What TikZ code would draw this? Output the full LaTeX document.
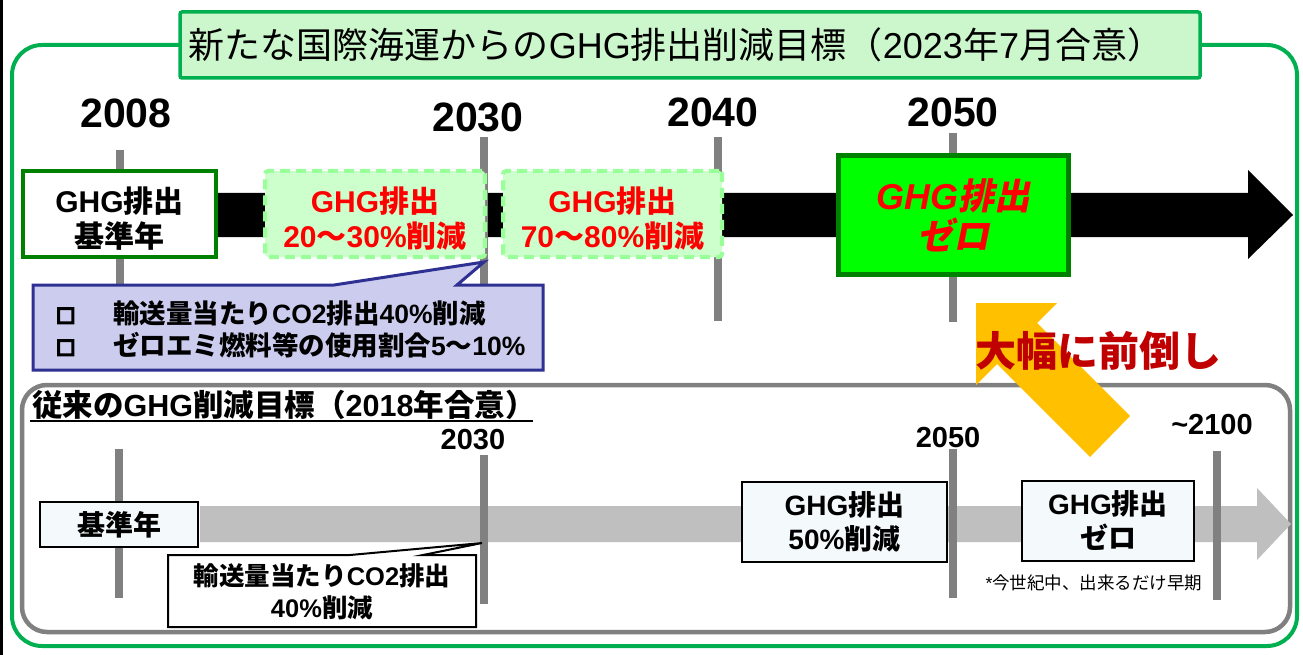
\documentclass[tikz,border=0pt]{standalone}
\usepackage{fontspec}
\setmainfont{Liberation Sans}
\newfontfamily\jp{Noto Sans CJK JP}
\newfontfamily\jpsl{Noto Sans CJK JP}[FakeSlant=0.2]
\newcommand\J[1]{{\jp #1}}
\newcommand\JS[1]{{\jpsl #1}}
\newcommand\SQ{\special{pdf:literal direct 2 Tr 2 w}{\jp\fontsize{19}{19}\selectfont □}\special{pdf:literal direct 0 Tr}}
\definecolor{frameg}{RGB}{0,176,80}
\definecolor{titlefill}{RGB}{204,247,204}
\definecolor{dkgreen}{RGB}{0,128,0}
\definecolor{ltfill}{RGB}{204,255,204}
\definecolor{dashg}{RGB}{153,255,153}
\definecolor{tickc}{RGB}{128,128,128}
\definecolor{calfill}{RGB}{204,204,238}
\definecolor{calline}{RGB}{46,49,146}
\definecolor{bigred}{RGB}{192,0,0}
\definecolor{yel}{RGB}{255,192,0}
\definecolor{barg}{RGB}{191,191,191}
\definecolor{boxfill}{RGB}{244,249,251}
\tikzset{
  frame/.style={draw=frameg, line width=4pt, rounded corners=30pt},
  lowframe/.style={draw=tickc, line width=4.5pt, rounded corners=25pt},
  titlebox/.style={draw=frameg, fill=titlefill, line width=3.5pt, rounded corners=2pt,
    minimum width=1020pt, minimum height=66pt, inner sep=0pt},
  titletext/.style={inner sep=0pt, font=\fontsize{36}{36}\selectfont},
  yearlbl/.style={font=\fontsize{41}{41}\selectfont\bfseries, inner sep=0pt},
  lyearlbl/.style={font=\fontsize{29}{29}\selectfont\bfseries, inner sep=0pt},
  tickline/.style={draw=tickc, line width=8pt},
  basebox/.style={draw=dkgreen, fill=white, line width=4pt, minimum width=193pt,
    minimum height=86pt, inner sep=0pt},
  targetbox/.style={draw=dashg, fill=ltfill, line width=4pt, dash pattern=on 10pt off 6pt,
    rounded corners=3pt, minimum height=86pt, inner sep=0pt},
  boxtext/.style={inner sep=0pt, align=center, font=\fontsize{30}{35}\selectfont\bfseries},
  zerobox/.style={draw=dkgreen, fill=green, line width=5pt, minimum width=230pt,
    minimum height=119pt, inner sep=0pt, align=center, text=red,
    font=\fontsize{36}{40}\selectfont\bfseries\itshape},
  calltext/.style={inner sep=0pt, align=left, font=\fontsize{26.5}{32}\selectfont\bfseries},
  lowbox/.style={draw=black, fill=boxfill, line width=2.5pt, inner sep=0pt, align=center,
    font=\fontsize{28}{34}\selectfont\bfseries},
}
\begin{document}
\begin{tikzpicture}[x=1pt,y=-1pt]
\useasboundingbox (0,0) rectangle (1303,655);
\fill[white] (0,0) rectangle (1303,655);
\fill[black] (0,0) rectangle (3,655);
% outer frame and title
\draw[frame] (12,45) rectangle (1297,646);
\node[titlebox] (title) at (690,45) {};
\node[titletext] (titlet) at (676,45)
  {\J{新たな国際海運からの}GHG\J{排出削減目標（}2023\J{年}7\J{月合意）}};
% year labels
\node[yearlbl] (y2008) at (126,113) {2008};
\node[yearlbl] (y2030) at (478,117) {2030};
\node[yearlbl] (y2040) at (713,112) {2040};
\node[yearlbl] (y2050) at (953,112) {2050};
% main timeline arrow
\fill[black] (215,193) -- (1248,193) -- (1248,170) -- (1293,215) -- (1248,259)
  -- (1248,237) -- (215,237) -- cycle;
% ticks
\draw[tickline] (120,150) -- (120,300);
\draw[tickline] (484,137) -- (484,300);
\draw[tickline] (718,137) -- (718,321);
\draw[tickline] (953,133) -- (953,322);
% boxes
\node[basebox] (b1) at (119.5,214) {};
\node[boxtext] (b1t) at ([yshift=-5pt]b1.center) {GHG\J{排出}\\\J{基準年}};
\node[targetbox, minimum width=220pt] (b2) at (375,214) {};
\node[boxtext, text=red] (b2t) at ([yshift=-5pt]b2.center) {GHG\J{排出}\\20\J{～}30\%\J{削減}};
\node[targetbox, minimum width=219pt] (b3) at (612.5,214) {};
\node[boxtext, text=red] (b3t) at ([yshift=-5pt]b3.center) {GHG\J{排出}\\70\J{～}80\%\J{削減}};
\node[zerobox] (b4) at (953,215) {GHG\JS{排出}\\\JS{ゼロ}};
% callout
\path[draw=calline, fill=calfill, line width=3pt] (33,285) -- (334,285) -- (484,262)
  -- (457,285) -- (543,285) -- (543,370) -- (33,370) -- cycle;
\node[calltext, anchor=west] (cal) at (56,329)
  {\SQ\hspace{38pt}\J{輸送量当たり}CO2\J{排出}40\%\J{削減}\\
   \SQ\hspace{38pt}\J{ゼロエミ燃料等の使用割合}5\J{～}10\%};
% lower frame
\draw[lowframe] (22,385) rectangle (1290,632);
\node[anchor=west, inner sep=0pt, font=\fontsize{30.5}{30.5}\selectfont\bfseries] (lt) at (32,405)
  {\J{従来の}GHG\J{削減目標（}2018\J{年合意）}};
\draw[line width=1.5pt] (30,421) -- (533,421);
% yellow arrow and label
\fill[yel] (976,303) -- (1057,303) -- (1037,323) -- (1130,416) -- (1090,457)
  -- (997,364) -- (976,385) -- cycle;
\node[inner sep=0pt, text=bigred, font=\fontsize{41}{41}\selectfont\bfseries] (big) at (1098,351)
  {\J{大幅に前倒し}};
% lower timeline
\fill[barg] (200,506) -- (1257,506) -- (1257,488) -- (1291,524) -- (1257,560)
  -- (1257,542) -- (200,542) -- cycle;
\draw[tickline] (119,449) -- (119,598);
\draw[tickline] (484,455) -- (484,604);
\draw[tickline] (953,449) -- (953,598);
\draw[tickline] (1217,451) -- (1217,600);
\node[lyearlbl] (ly2030) at (473,440) {2030};
\node[lyearlbl] (ly2050) at (948,438) {2050};
\node[lyearlbl] (ly2100) at (1212,425) {\textasciitilde2100};
% lower boxes
\node[lowbox, minimum width=158pt, minimum height=45pt] (lb1) at (119,524.5) {\J{基準年}};
\node[lowbox, minimum width=205pt, minimum height=80pt] (lb3) at (844.5,522)
  {GHG\J{排出}\\50\%\J{削減}};
\node[lowbox, minimum width=172pt, minimum height=80pt] (lb4) at (1108,521)
  {GHG\J{排出}\\\J{ゼロ}};
\path[draw=black, fill=white, line width=2pt] (168,555) -- (350,555) -- (482,543)
  -- (423,555) -- (476,555) -- (476,627) -- (168,627) -- cycle;
\node[inner sep=0pt, align=center, font=\fontsize{25.5}{32}\selectfont\bfseries] (lb2) at (322,592)
  {\J{輸送量当たり}CO2\J{排出}\\40\%\J{削減}};
\node[inner sep=0pt, font=\fontsize{17.5}{17.5}\selectfont] (note) at (1094,583)
  {*\J{今世紀中、出来るだけ早期}};
\end{tikzpicture}
\end{document}
